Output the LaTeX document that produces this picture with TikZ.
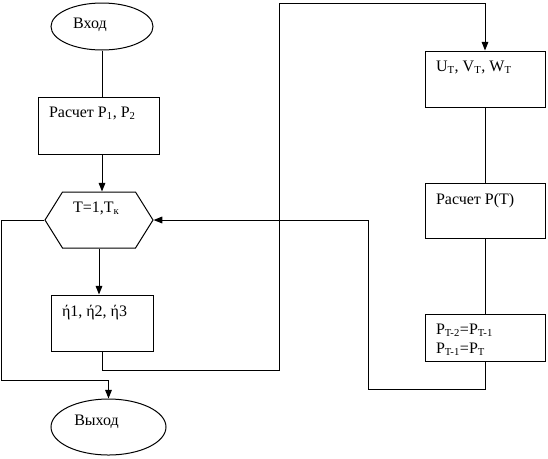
\documentclass[tikz,border=0pt]{standalone}
\usepackage{fontspec}
\setmainfont{Liberation Serif}
\usetikzlibrary{shapes.geometric,shapes.symbols,arrows.meta}

\begin{document}
\begin{tikzpicture}[x=0.75pt,y=-0.75pt,line width=0.75pt,
    every node/.style={font=\fontsize{12}{14}\selectfont,inner sep=0pt},
    oval/.style={draw,ellipse},
    blok/.style={draw,rectangle},
    cikl/.style={draw,signal,signal to=west and east,signal pointer angle=116},
    tekst/.style={anchor=north west,align=left,xshift=8.25pt,yshift=-7.5pt},
    strelka/.style={-{Triangle[length=6.5pt,width=5pt]}}]
  \useasboundingbox (0,0) rectangle (548,458);
  % left column
  \node[oval,minimum width=76.5pt,minimum height=35.25pt,
        label={[xshift=-9pt,yshift=1pt]center:Вход}] (vhod) at (102,26.5) {};
  \node[blok,minimum width=90.75pt,minimum height=42.75pt,
        label={[tekst]north west:Расчет P\textsubscript{1}, P\textsubscript{2}}] (p12) at (98.5,125.5) {};
  \node[cikl,minimum width=81pt,minimum height=42pt,
        label={[xshift=-2pt,yshift=9pt]center:T=1,T\textsubscript{к}}] (t) at (99,220) {};
  \node[blok,minimum width=76.5pt,minimum height=42pt,
        label={[tekst]north west:ή1, ή2, ή3}] (eta) at (102,323) {};
  \node[oval,minimum width=86.25pt,minimum height=42pt,
        label={[xshift=-9pt,yshift=3.75pt]center:Выход}] (vyhod) at (108.5,427) {};
  % right column
  \node[blok,minimum width=90pt,minimum height=42pt,
        label={[tekst]north west:U\textsubscript{T}, V\textsubscript{T}, W\textsubscript{T}}] (uvw) at (485,79) {};
  \node[blok,minimum width=90pt,minimum height=41.25pt,
        label={[tekst]north west:Расчет P(T)}] (pt) at (485,210.5) {};
  \node[blok,minimum width=90pt,minimum height=35.25pt,
        label={[tekst]north west:P\textsubscript{T-2}=P\textsubscript{T-1}\\P\textsubscript{T-1}=P\textsubscript{T}}] (sdvig) at (485,337.5) {};
  % corners of the loops
  \coordinate (vyh) at (1,380);
  \coordinate (niz1) at (279,370);
  \coordinate (verh) at (279,3);
  \coordinate (niz2) at (368,389);

  \draw (vhod.south) -- (vhod.south |- p12.north);
  \draw[strelka] (vhod.south |- p12.south) -- (vhod.south |- t.north);
  \draw[strelka] (t.south) -- (t.south |- eta.north);
  \draw[strelka] (t.west) -| (vyh) -- (vyh -| vyhod.north) -- (vyhod.north);
  \draw[strelka] (eta.south) |- (niz1) -- (verh) -| (uvw.north);
  \draw (uvw.south) -- (pt.north);
  \draw (pt.south) -- (sdvig.north);
  \draw[strelka] (sdvig.south) |- (niz2) |- (t.east);
\end{tikzpicture}
\end{document}
